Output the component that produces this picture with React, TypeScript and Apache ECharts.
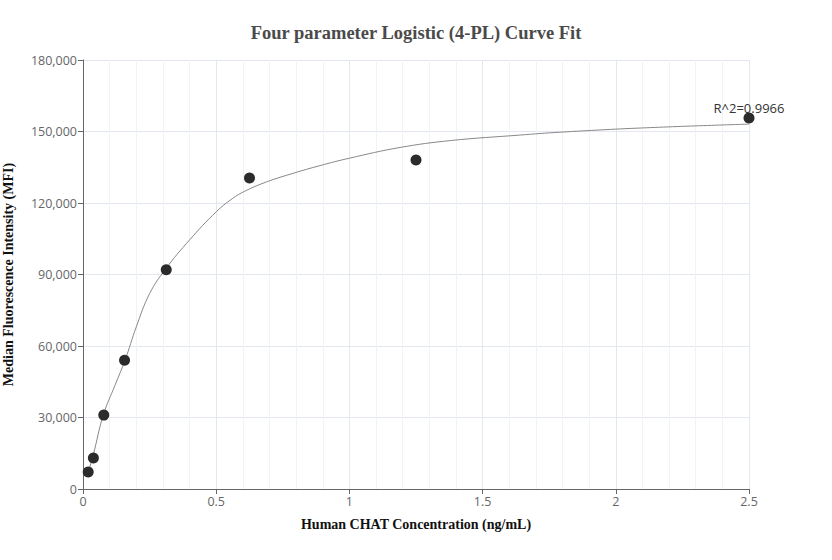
import React, { useEffect, useRef } from "react";
import * as echarts from "echarts";

const concentrations = [0.0195, 0.039, 0.078, 0.156, 0.3125, 0.625, 1.25, 2.5];
const mfiValues = [7100, 13000, 31000, 54000, 92000, 130500, 138000, 155700];
const curveX = [0.0195, 0.039, 0.076, 0.12, 0.158, 0.2, 0.25, 0.31, 0.4, 0.5, 0.56, 0.61, 0.69, 0.79, 0.89, 1.0, 1.19, 1.38, 1.64, 1.79, 2.1, 2.5];
const curveY = [7000, 14500, 31000, 43500, 54100, 68000, 82000, 92300, 104500, 116300, 121800, 125100, 128900, 132500, 135700, 138800, 143300, 146200, 148500, 149700, 151500, 153100];
const xTicks = [0, 0.5, 1, 1.5, 2, 2.5];
const yTicks = [0, 30000, 60000, 90000, 120000, 150000, 180000];
const r2Label = "R^2=0.9966";

export default function App() {
  const ref = useRef<HTMLDivElement>(null);
  useEffect(() => {
    document.body.style.margin = "0";
    if (!ref.current) return;
    const chart = echarts.init(ref.current, null, { renderer: "svg" });
    const scatterData = concentrations.map((c, i) => ({
      value: [c, mfiValues[i]],
      label:
        i === concentrations.length - 1
          ? { show: true, position: "top", distance: -2, formatter: r2Label, color: "#333", fontSize: 13, fontFamily: "Open Sans" }
          : { show: false },
    }));
    chart.setOption({
      animation: false,
      backgroundColor: "#fff",
      title: {
        text: "Four parameter Logistic (4-PL) Curve Fit",
        left: "center",
        top: 18,
        textStyle: { fontFamily: "Liberation Serif", fontSize: 18.5, fontWeight: "bold", color: "#4a4a4a" },
      },
      grid: { left: 83, right: 83, top: 60, bottom: 71, containLabel: false, outerBoundsMode: "none" },
      xAxis: {
        type: "value",
        min: xTicks[0],
        max: xTicks[xTicks.length - 1],
        interval: 0.5,
        name: "Human CHAT Concentration (ng/mL)",
        nameLocation: "middle",
        nameGap: 28,
        nameTextStyle: { fontFamily: "Liberation Serif", fontSize: 14, fontWeight: "bold", color: "#111" },
        axisLine: { show: true, lineStyle: { color: "#666" } },
        axisTick: { show: true, length: 5, lineStyle: { color: "#666" } },
        axisLabel: { color: "#666", fontSize: 12.5, fontFamily: "Open Sans", margin: 6 },
        splitLine: { show: true, lineStyle: { color: "#e3e7f0" } },
        minorTick: { show: false, splitNumber: 5 },
        minorSplitLine: { show: true, lineStyle: { color: "#f1f3f7" } },
      },
      yAxis: {
        type: "value",
        min: yTicks[0],
        max: yTicks[yTicks.length - 1],
        interval: 30000,
        name: "Median Fluorescence Intensity (MFI)",
        nameLocation: "middle",
        nameGap: 68,
        nameTextStyle: { fontFamily: "Liberation Serif", fontSize: 14, fontWeight: "bold", color: "#111" },
        axisLine: { show: true, lineStyle: { color: "#666" } },
        axisTick: { show: true, length: 5, lineStyle: { color: "#666" } },
        axisLabel: {
          color: "#666",
          fontSize: 12.5,
          fontFamily: "Open Sans",
          margin: 6,
          formatter: (v: number) => v.toLocaleString("en-US"),
        },
        splitLine: { show: true, lineStyle: { color: "#e3e7f0" } },
      },
      series: [
        {
          type: "line",
          data: curveX.map((x, i) => [x, curveY[i]]),
          showSymbol: false,
          smooth: 0.4,
          lineStyle: { color: "#888", width: 1 },
          z: 2,
        },
        {
          type: "scatter",
          data: scatterData,
          symbolSize: 11,
          itemStyle: { color: "#2b2b2b", opacity: 1 },
          z: 3,
        },
      ],
    });
    return () => chart.dispose();
  }, []);
  return <div ref={ref} style={{ width: 832, height: 560 }} />;
}
